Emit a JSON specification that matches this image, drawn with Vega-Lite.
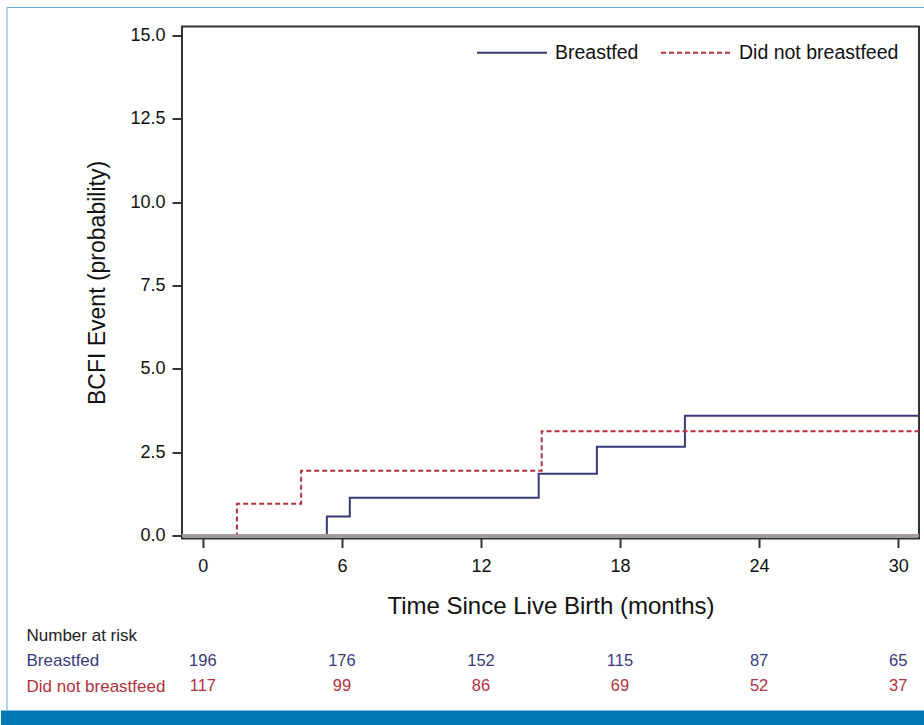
{
  "$schema": "https://vega.github.io/schema/vega-lite/v6.json",
  "padding": {"left": 0, "top": 6.5, "right": 0, "bottom": 0},
  "background": "white",
  "config": {"font": "Liberation Sans", "view": {"stroke": null}},
  "bounds": "flush",
  "spacing": 84,
  "resolve": {
    "scale": {"color": "independent", "strokeDash": "independent"},
    "legend": {"color": "independent", "strokeDash": "independent"}
  },
  "vconcat": [
    {
      "width": 737,
      "height": 512,
      "view": {"stroke": "#333333", "strokeWidth": 2},
      "data": {
        "values": [
          {"time": 0, "pct": 0, "group": "Breastfed"},
          {"time": 5.35, "pct": 0.57, "group": "Breastfed"},
          {"time": 6.34, "pct": 1.13, "group": "Breastfed"},
          {"time": 14.49, "pct": 1.85, "group": "Breastfed"},
          {"time": 17.0, "pct": 2.66, "group": "Breastfed"},
          {"time": 20.8, "pct": 3.59, "group": "Breastfed"},
          {"time": 30.9, "pct": 3.59, "group": "Breastfed"},
          {"time": 0, "pct": 0, "group": "Did not breastfeed"},
          {"time": 1.47, "pct": 0.95, "group": "Did not breastfeed"},
          {"time": 4.24, "pct": 1.94, "group": "Did not breastfeed"},
          {"time": 14.62, "pct": 3.13, "group": "Did not breastfeed"},
          {"time": 30.9, "pct": 3.13, "group": "Did not breastfeed"}
        ]
      },
      "layer": [
        {
          "mark": {"type": "line", "interpolate": "step-after", "strokeWidth": 2},
          "encoding": {
            "x": {
              "field": "time", "type": "quantitative",
              "scale": {"domain": [-0.9, 30.9], "nice": false, "zero": false},
              "axis": {
                "values": [0, 6, 12, 18, 24, 30], "format": "d",
                "title": "Time Since Live Birth (months)",
                "titleFontSize": 24, "titleFontWeight": "normal", "titleColor": "#111111", "titlePadding": 19,
                "labelFontSize": 18, "labelColor": "#111111", "labelPadding": 10, "labelFlush": false,
                "tickSize": 9, "tickWidth": 2, "tickColor": "#333333",
                "domain": false, "grid": false
              }
            },
            "y": {
              "field": "pct", "type": "quantitative",
              "scale": {"domain": [-0.09, 15.27], "nice": false, "zero": false},
              "axis": {
                "values": [0, 2.5, 5, 7.5, 10, 12.5, 15], "format": ".1f",
                "title": "BCFI Event (probability)",
                "titleFontSize": 23, "titleFontWeight": "normal", "titleColor": "#111111", "titlePadding": 20,
                "labelFontSize": 18, "labelColor": "#111111", "labelPadding": 7, "labelFlush": false,
                "tickSize": 10, "tickWidth": 2, "tickColor": "#333333",
                "domain": false, "grid": false
              }
            },
            "color": {
              "field": "group", "type": "nominal",
              "scale": {"domain": ["Breastfed", "Did not breastfeed"], "range": ["#393a7a", "#b3313d"]},
              "legend": {
                "title": null, "orient": "none", "legendX": 294, "legendY": -10, "direction": "horizontal", "padding": 0,
                "labelFontSize": 19.5, "labelColor": "#111111", "symbolType": "stroke", "symbolSize": 4900,
                "symbolStrokeWidth": 2, "labelOffset": 7, "columnPadding": 18
              }
            },
            "strokeDash": {
              "field": "group", "type": "nominal",
              "scale": {"domain": ["Breastfed", "Did not breastfeed"], "range": [[1, 0], [5, 3]]},
              "legend": {
                "title": null, "orient": "none", "legendX": 294, "legendY": -10, "direction": "horizontal", "padding": 0,
                "labelFontSize": 19.5, "labelColor": "#111111", "symbolType": "stroke", "symbolSize": 4900,
                "symbolStrokeWidth": 2, "labelOffset": 7, "columnPadding": 18
              }
            }
          }
        },
        {
          "mark": {"type": "rule", "color": "#a39a9a", "strokeWidth": 2},
          "encoding": {"y": {"datum": 0}}
        }
      ]
    },
    {
      "width": 737,
      "height": 103,
      "view": {"stroke": null},
      "layer": [
        {
          "data": {
            "values": [
              {"time": 0, "row": 2, "n": 196, "group": "Breastfed"},
              {"time": 6, "row": 2, "n": 176, "group": "Breastfed"},
              {"time": 12, "row": 2, "n": 152, "group": "Breastfed"},
              {"time": 18, "row": 2, "n": 115, "group": "Breastfed"},
              {"time": 24, "row": 2, "n": 87, "group": "Breastfed"},
              {"time": 30, "row": 2, "n": 65, "group": "Breastfed"},
              {"time": 0, "row": 3, "n": 117, "group": "Did not breastfeed"},
              {"time": 6, "row": 3, "n": 99, "group": "Did not breastfeed"},
              {"time": 12, "row": 3, "n": 86, "group": "Did not breastfeed"},
              {"time": 18, "row": 3, "n": 69, "group": "Did not breastfeed"},
              {"time": 24, "row": 3, "n": 52, "group": "Did not breastfeed"},
              {"time": 30, "row": 3, "n": 37, "group": "Did not breastfeed"}
            ]
          },
          "mark": {"type": "text", "fontSize": 16.5, "align": "center", "baseline": "middle"},
          "encoding": {
            "x": {"field": "time", "type": "quantitative", "scale": {"domain": [-0.9, 30.9], "nice": false, "zero": false}, "axis": null},
            "y": {
              "field": "row", "type": "quantitative",
              "scale": {"domain": [0.486, 4.557], "nice": false, "zero": false, "reverse": true},
              "axis": {
                "values": [1, 2, 3],
                "labelExpr": "datum.value == 1 ? 'Number at risk' : datum.value == 2 ? 'Breastfed' : 'Did not breastfeed'",
                "labelAlign": "left", "labelBaseline": "middle", "labelPadding": 156,
                "ticks": false, "tickSize": 0, "domain": false, "grid": false, "title": null,
                "labelFontSize": 17, "labelOverlap": false, "labelFlush": false, "labelBound": false,
                "labelColor": {"expr": "datum.value == 1 ? '#222222' : datum.value == 2 ? '#393a7a' : '#b3313d'"}
              }
            },
            "text": {"field": "n", "type": "quantitative"},
            "color": {
              "field": "group", "type": "nominal",
              "scale": {"domain": ["Breastfed", "Did not breastfeed"], "range": ["#393a7a", "#b3313d"]},
              "legend": null
            }
          }
        },
        {
          "data": {"values": [{"x": -8.71, "x2": 31.16, "y": 3.964, "y2": 4.6}]},
          "mark": {"type": "rect", "color": "#0078b4", "clip": false},
          "encoding": {
            "x": {"field": "x", "type": "quantitative", "scale": {"domain": [-0.9, 30.9], "nice": false, "zero": false}, "axis": null},
            "x2": {"field": "x2"},
            "y": {"field": "y", "type": "quantitative", "scale": {"domain": [0.486, 4.557], "nice": false, "zero": false, "reverse": true}},
            "y2": {"field": "y2"}
          }
        },
        {
          "data": {
            "values": [
              {"x": -8.451, "x2": 31.16, "y": -23.821, "y2": -23.821},
              {"x": -8.451, "x2": -8.451, "y": -23.821, "y2": 3.964}
            ]
          },
          "mark": {"type": "rule", "color": "#5aaede", "strokeWidth": 1, "clip": false},
          "encoding": {
            "x": {"field": "x", "type": "quantitative", "scale": {"domain": [-0.9, 30.9], "nice": false, "zero": false}, "axis": null},
            "x2": {"field": "x2"},
            "y": {"field": "y", "type": "quantitative", "scale": {"domain": [0.486, 4.557], "nice": false, "zero": false, "reverse": true}},
            "y2": {"field": "y2"}
          }
        }
      ]
    }
  ]
}
